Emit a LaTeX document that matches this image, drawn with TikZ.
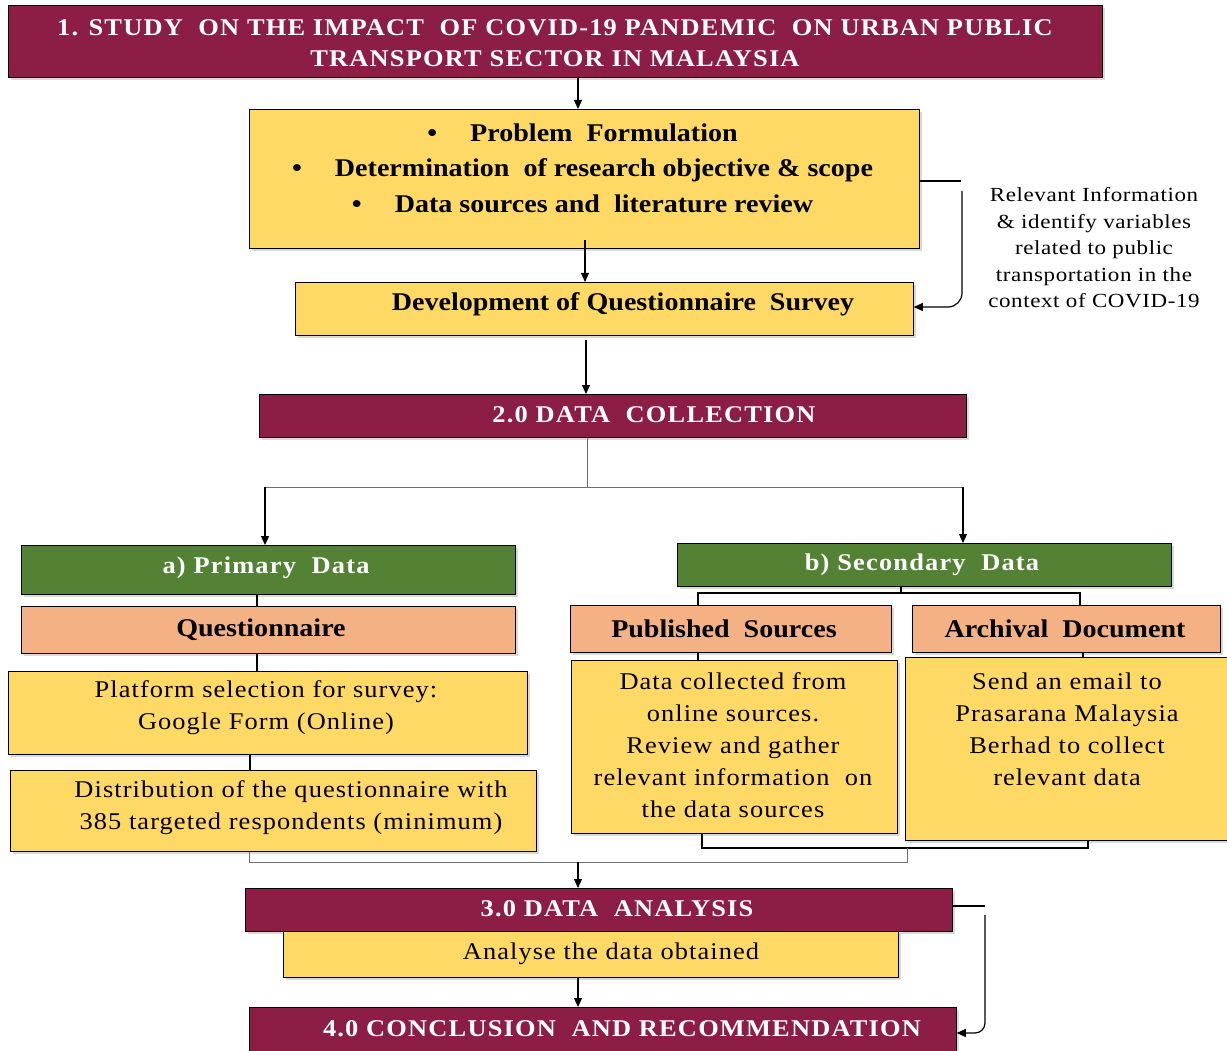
\documentclass[tikz,border=0pt]{standalone}
\usepackage{fontspec}
\setmainfont{Liberation Serif}
\newfontfamily\wfont{Liberation Serif}[FakeStretch=1.1, LetterSpace=5]
\newfontfamily\bfont{Liberation Serif}[FakeStretch=1.1]
\newfontfamily\nfont{Liberation Serif}[FakeStretch=1.1, LetterSpace=4.5]
\newfontfamily\sfont{Liberation Serif}[FakeStretch=1.15, LetterSpace=3]
\usetikzlibrary{shadows,arrows.meta}
\definecolor{maroon}{RGB}{140,29,69}
\definecolor{yel}{RGB}{255,217,102}
\definecolor{grn}{RGB}{84,130,53}
\definecolor{salm}{RGB}{244,177,131}
\definecolor{lgray}{RGB}{110,110,110}
\begin{document}
\begin{tikzpicture}[x=1pt,y=-1pt,
  box/.style={draw=black, line width=0.8pt, inner sep=0pt, anchor=north west,
    drop shadow={shadow xshift=3pt, shadow yshift=-3pt, opacity=0.3, fill=gray}},
  mbox/.style={box, fill=maroon},
  ybox/.style={box, fill=yel},
  gbox/.style={box, fill=grn},
  sbox/.style={box, fill=salm},
  wtxt/.style={text=white, font=\wfont\bfseries\fontsize{24}{31}\selectfont, align=center, inner sep=0pt},
  btxt/.style={text=black, font=\bfont\bfseries\fontsize{25.5}{35.5}\selectfont, align=center, inner sep=0pt},
  ntxt/.style={text=black, font=\nfont\fontsize{24}{32}\selectfont, align=center, inner sep=0pt},
  side/.style={text=black, font=\sfont\fontsize{20}{26.5}\selectfont, align=center, inner sep=0pt},
  arr/.style={-{Triangle[length=9pt,width=8pt]}, line width=1.2pt},
  ln/.style={line width=1.4pt},
  gln/.style={line width=0.8pt, draw=lgray}]
\useasboundingbox (0,0) rectangle (1227,1051);

% boxes
\node[mbox, minimum width=1094, minimum height=72] (title) at (8,5) {};
\node[ybox, minimum width=670, minimum height=139] (prob) at (249,109) {};
\node[ybox, minimum width=618, minimum height=53] (dev) at (295,282) {};
\node[mbox, minimum width=707, minimum height=43] (dc) at (259,394) {};
\node[gbox, minimum width=494, minimum height=49] (prim) at (21,545) {};
\node[sbox, minimum width=494, minimum height=47] (quest) at (21,606) {};
\node[ybox, minimum width=519, minimum height=83] (plat) at (8,671) {};
\node[ybox, minimum width=526, minimum height=81] (dist) at (10,770) {};
\node[gbox, minimum width=494, minimum height=43] (sec) at (677,543) {};
\node[sbox, minimum width=321, minimum height=47] (pub) at (570,605) {};
\node[sbox, minimum width=308, minimum height=47] (arch) at (912,605) {};
\node[ybox, minimum width=326, minimum height=173] (dcol) at (571,660) {};
\node[ybox, minimum width=322, minimum height=183] (mail) at (905,657) {};
\node[mbox, minimum width=707, minimum height=43] (da) at (245,888) {};
\node[ybox, minimum width=615, minimum height=46] (ana) at (283,931) {};
\node[mbox, minimum width=707, minimum height=44] (conc) at (249,1007) {};

% texts
\node[wtxt] (titletxt) at (555,43) {1. STUDY\ \ ON THE IMPACT\ \ OF COVID-19 PANDEMIC\ \ ON URBAN PUBLIC\\TRANSPORT SECTOR IN MALAYSIA};
\node[btxt] (probtxt) at (604,168) {\makebox[0pt][r]{\textbullet\hspace{1.3em}}Problem\ \ Formulation\\
\makebox[0pt][r]{\textbullet\hspace{1.3em}}Determination\ \ of research objective \& scope\\
\makebox[0pt][r]{\textbullet\hspace{1.3em}}Data sources and\ \ literature review};
\node[btxt] (devtxt) at (623,304) {Development of Questionnaire\ \ Survey};
\node[wtxt] (dctxt) at (654,415) {2.0 DATA\ \ COLLECTION};
\node[wtxt] (primtxt) at (266,568) {a) Primary\ \ Data};
\node[btxt] (questtxt) at (261,630) {Questionnaire};
\node[ntxt] (plattxt) at (266,708) {Platform selection for survey:\\Google Form (Online)};
\node[ntxt] (disttxt) at (291,808) {Distribution\ of the questionnaire with\\385 targeted respondents (minimum)};
\node[wtxt] (sectxt) at (922,565) {b) Secondary\ \ Data};
\node[btxt] (pubtxt) at (724,629) {Published\ \ Sources};
\node[btxt] (archtxt) at (1065,629) {Archival\ \ Document};
\node[ntxt] (dcoltxt) at (733,745) {Data collected from\\online sources.\\Review and gather\\relevant information\ \ on\\the data sources};
\node[ntxt] (mailtxt) at (1067,729) {Send an email to\\Prasarana Malaysia\\Berhad to collect\\relevant data};
\node[wtxt] (datxt) at (617,909) {3.0 DATA\ \ ANALYSIS};
\node[ntxt] (anatxt) at (611,954) {Analyse\ the data obtained};
\node[wtxt] (conctxt) at (622,1029) {4.0 CONCLUSION\ \ AND\ RECOMMENDATION};
\node[side] (note) at (1094,248) {Relevant Information\\\& identify variables\\related to public\\transportation in the\\context of COVID-19};

% connectors
\draw[arr] (title.south -| 578,0) -- (prob.north -| 578,0);
\draw[arr] (585,240) -- (dev.north -| 585,0);
\coordinate (s1) at (961,181);
\coordinate (s2) at (962,191);
\draw[ln] (prob.east |- s1) -- (s1);
\draw[arr, rounded corners=14pt] (s2) -- (962,307) -- (dev.east |- 0,307);
\draw[arr] (586,340) -- (dc.north -| 586,0);

\coordinate (dcj) at (587,487);
\draw[gln] (dc.south -| dcj) -- (dcj);
\draw[gln] (265,487) -- (963,487);
\draw[arr] (265,487) -- (prim.north -| 265,0);
\draw[arr] (963,487) -- (sec.north -| 963,0);

\draw[ln] (prim.south -| 257,0) -- (quest.north -| 257,0);
\draw[ln] (quest.south -| 257,0) -- (plat.north -| 257,0);
\draw[ln] (plat.south -| 250,0) -- (dist.north -| 250,0);

\draw[ln] (sec.south -| 901,0) -- (901,593);
\draw[ln] (pub.north -| 698,0) -- (698,593) -- (1080,593) -- (arch.north -| 1080,0);
\draw[ln] (pub.south -| 698,0) -- (dcol.north -| 698,0);
\draw[ln] (arch.south -| 1083,0) -- (mail.north -| 1083,0);
\draw[ln] (dcol.south -| 702,0) -- (702,848) -- (1088,848) -- (mail.south -| 1088,0);

\draw[gln] (dist.south -| 249,0) -- (249,862) -- (907,862) -- (907,848);
\draw[arr] (578,862) -- (da.north -| 578,0);
\draw[arr] (ana.south -| 578,0) -- (conc.north -| 578,0);

\coordinate (s3) at (985,906);
\coordinate (s4) at (985,915);
\draw[ln] (da.east |- s3) -- (s3);
\draw[arr, rounded corners=10pt] (s4) -- (985,1033) -- (conc.east |- 0,1033);
\end{tikzpicture}
\end{document}
